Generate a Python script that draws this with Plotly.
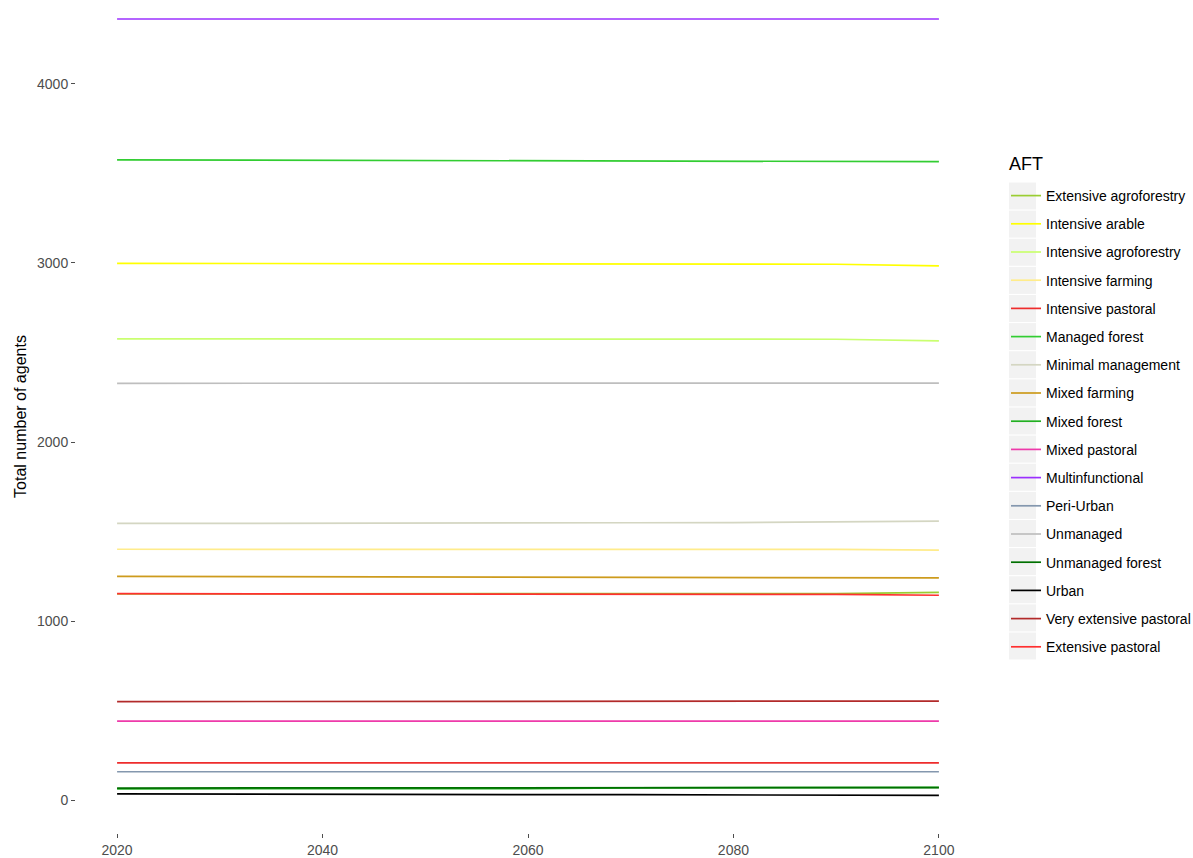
import plotly.graph_objects as go

# Years simulated
years = [2020, 2030, 2040, 2050, 2060, 2070, 2080, 2090, 2100]

# Agent counts per agent functional type (AFT)
extensive_agroforestry = [1152, 1152, 1152, 1152, 1152, 1152, 1152, 1153, 1160]
intensive_arable = [2998, 2997, 2996, 2996, 2996, 2995, 2994, 2993, 2984]
intensive_agroforestry = [2576, 2576, 2576, 2576, 2576, 2575, 2575, 2574, 2565]
intensive_farming = [1401, 1401, 1401, 1401, 1401, 1401, 1400, 1400, 1396]
intensive_pastoral = [208, 208, 208, 208, 208, 208, 208, 208, 208]
managed_forest = [3576, 3575, 3573, 3572, 3572, 3572, 3571, 3570, 3566]
minimal_management = [1545, 1545, 1546, 1547, 1548, 1549, 1550, 1552, 1558]
mixed_farming = [1250, 1249, 1247, 1247, 1246, 1246, 1245, 1245, 1241]
mixed_forest = [63, 63, 63, 63, 64, 68, 70, 70, 71]
mixed_pastoral = [441, 441, 441, 441, 441, 441, 441, 441, 441]
multinfunctional = [4363, 4363, 4363, 4363, 4363, 4363, 4363, 4363, 4363]
peri_urban = [158, 158, 158, 158, 158, 158, 158, 158, 158]
unmanaged = [2328, 2328, 2328, 2328, 2328, 2328, 2328, 2328, 2329]
unmanaged_forest = [67, 67, 67, 67, 67, 67, 67, 68, 70]
urban = [35, 33, 32, 31, 30, 30, 29, 28, 26]
very_extensive_pastoral = [550, 550, 552, 553, 553, 553, 553, 553, 553]
extensive_pastoral = [1153, 1153, 1153, 1153, 1152, 1151, 1150, 1149, 1144]

aft_names = [
    "Extensive agroforestry", "Intensive arable", "Intensive agroforestry",
    "Intensive farming", "Intensive pastoral", "Managed forest",
    "Minimal management", "Mixed farming", "Mixed forest", "Mixed pastoral",
    "Multinfunctional", "Peri-Urban", "Unmanaged", "Unmanaged forest",
    "Urban", "Very extensive pastoral", "Extensive pastoral",
]
aft_values = [
    extensive_agroforestry, intensive_arable, intensive_agroforestry,
    intensive_farming, intensive_pastoral, managed_forest,
    minimal_management, mixed_farming, mixed_forest, mixed_pastoral,
    multinfunctional, peri_urban, unmanaged, unmanaged_forest,
    urban, very_extensive_pastoral, extensive_pastoral,
]
aft_colors = [
    "#9ACD32", "#FFFF00", "#CAFF70", "#FFEC8B", "#EE2C2C", "#32CD32",
    "#D4D6C2", "#CD9B1D", "#22B022", "#EE3AAA", "#9B30FF", "#8497AE",
    "#BEBEBE", "#007000", "#000000", "#B22A2A", "#FF3030",
]

FONT = "Liberation Sans, Arial, sans-serif"

fig = go.Figure()
for name, vals, col in zip(aft_names, aft_values, aft_colors):
    fig.add_trace(go.Scatter(
        x=years, y=vals, mode="lines", name=name, legendgroup=name,
        line=dict(color=col, width=1.7),
    ))

# Plot area in pixels (used to place the legend pieces)
W, H = 1193, 858
ML, MR, MT, MB = 76, 213, 0, 25
pw, ph = W - ML - MR, H - MT - MB

def px_x(p):
    return (p - ML) / pw

def px_y(p):
    return (H - MB - p) / ph

# Grey legend key backgrounds
shapes = []
key_top = 182.5
key_step = 28.125
for i in range(len(aft_names)):
    y0 = key_top + i * key_step
    shapes.append(dict(
        type="rect", xref="paper", yref="paper",
        x0=px_x(1009), x1=px_x(1036), y0=px_y(y0 + 27), y1=px_y(y0),
        fillcolor="#F2F2F2", line=dict(width=0), layer="below",
    ))

fig.update_layout(
    width=W, height=H,
    margin=dict(l=ML, r=MR, t=MT, b=MB, autoexpand=False),
    paper_bgcolor="white", plot_bgcolor="white",
    font=dict(family=FONT, color="#4D4D4D", size=14),
    showlegend=True,
    shapes=shapes,
    annotations=[dict(
        text="AFT", xref="paper", yref="paper",
        x=px_x(1007), y=px_y(163.5), xanchor="left", yanchor="middle",
        showarrow=False, font=dict(size=18, color="black", family=FONT),
    )],
    legend=dict(
        font=dict(size=14, color="black", family=FONT),
        x=px_x(1006), xanchor="left",
        y=px_y(180), yanchor="top",
        tracegroupgap=7, itemwidth=30,
        bgcolor="rgba(0,0,0,0)",
    ),
    xaxis=dict(
        range=[2016, 2104], tickvals=[2020, 2040, 2060, 2080, 2100],
        showgrid=False, zeroline=False, showline=False,
        ticks="outside", ticklen=4, tickcolor="#4D4D4D", tickwidth=1,
        tickfont=dict(size=14, color="#4D4D4D"),
    ),
    yaxis=dict(
        range=[-184, 4469], tickvals=[0, 1000, 2000, 3000, 4000],
        showgrid=False, zeroline=False, showline=False,
        ticks="outside", ticklen=4, tickcolor="#4D4D4D", tickwidth=1,
        tickfont=dict(size=14, color="#4D4D4D"),
        title=dict(text="Total number of agents", font=dict(size=16, color="black"), standoff=6),
    ),
)

fig.write_html("out.html")
